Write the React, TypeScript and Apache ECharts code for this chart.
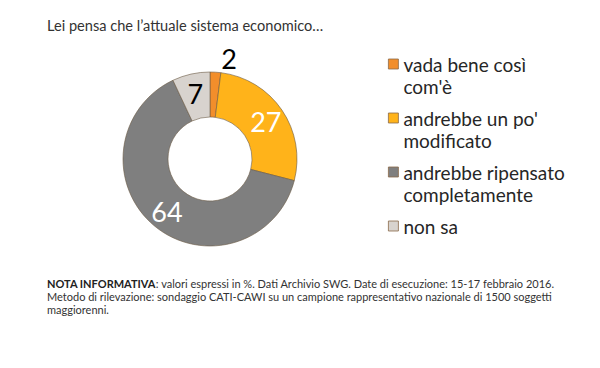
import React, { useEffect, useRef } from "react";
import * as echarts from "echarts";

const categories = [
  "vada bene così\ncom'è",
  "andrebbe un po'\nmodificato",
  "andrebbe ripensato\ncompletamente",
  "non sa",
];
const values = [2, 27, 64, 7];
const colors = ["#F28E2B", "#FFB31A", "#7F7F7F", "#D8D3CE"];
const labelColors = ["#000000", "#FFFFFF", "#FFFFFF", "#000000"];
const labelPositions = ["outside", "inside", "inside", "inside"];

const titleText = "Lei pensa che l\u2019attuale sistema economico\u2026";
const noteLines = [
  "{b|NOTA INFORMATIVA}: valori espressi in %. Dati Archivio SWG. Date di esecuzione: 15-17 febbraio 2016.",
  "Metodo di rilevazione: sondaggio CATI-CAWI su un campione rappresentativo nazionale di 1500 soggetti",
  "maggiorenni.",
];

const FONT = "Lato, 'Open Sans', sans-serif";

export default function App() {
  const ref = useRef<HTMLDivElement>(null);
  useEffect(() => {
    if (!ref.current) return;
    const chart = echarts.init(ref.current, undefined, { renderer: "svg" });
    chart.setOption({
      animation: false,
      backgroundColor: "#FFFFFF",
      textStyle: { fontFamily: FONT },
      title: {
        text: titleText,
        left: 42,
        top: 13,
        textStyle: { fontFamily: FONT, fontSize: 14.6, fontWeight: "normal", color: "#333333" },
      },
      legend: {
        orient: "vertical",
        left: 388,
        top: 31,
        padding: 0,
        itemWidth: 10,
        itemHeight: 10,
        itemGap: -12,
        icon: "rect",
        selectedMode: false,
        formatter: (name: string) => (name.indexOf("\n") >= 0 ? "\n" + name : "\n" + name + "\n "),
        textStyle: { fontFamily: FONT, fontSize: 19, lineHeight: 22, color: "#262626" },
        data: categories.map((c) => ({
          name: c,
          itemStyle: { borderColor: "#8a6a4a", borderWidth: 0.8 },
        })),
      },
      graphic: [
        {
          type: "text",
          left: 47,
          top: 277,
          style: {
            text: noteLines.join("\n"),
            fontFamily: FONT,
            fontSize: 11,
            lineHeight: 13,
            fill: "#333333",
            rich: {
              b: { fontFamily: FONT, fontSize: 11, fontWeight: "bold", fill: "#222222", lineHeight: 13 },
            },
          },
        },
      ],
      series: [
        {
          type: "pie",
          center: [210, 159],
          radius: [42, 87],
          startAngle: 90,
          clockwise: true,
          avoidLabelOverlap: false,
          data: categories.map((c, i) => ({
            name: c,
            value: values[i],
            itemStyle: { color: colors[i], borderColor: "#6b5a45", borderWidth: 0.6 },
            label: {
              show: true,
              position: labelPositions[i],
              color: labelColors[i],
              fontSize: 27,
              fontFamily: FONT,
              formatter: "{c}",
            },
            labelLine: { show: false, length: 14, length2: 0 },
          })),
          emphasis: { disabled: true },
        },
      ],
    });
    return () => chart.dispose();
  }, []);
  return (
    <div
      ref={ref}
      style={{ position: "fixed", left: 0, top: 0, width: 600, height: 368 }}
    />
  );
}
